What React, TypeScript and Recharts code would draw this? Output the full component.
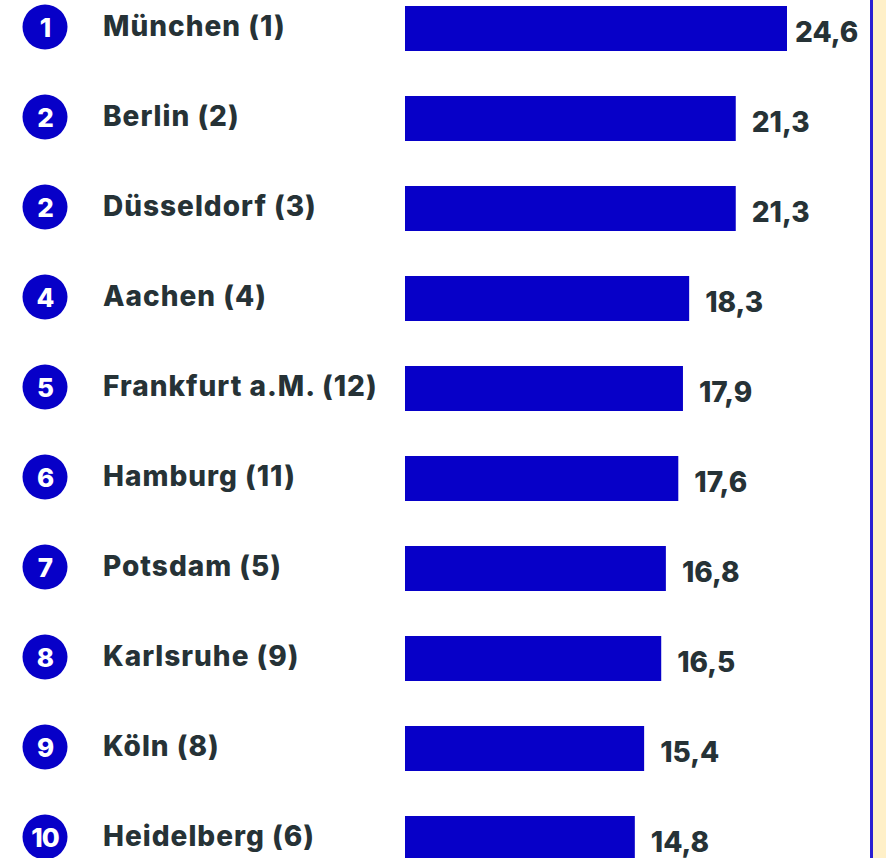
import React from 'react';
import { BarChart, Bar, XAxis, YAxis, LabelList } from 'recharts';

const cities = [
  'München (1)',
  'Berlin (2)',
  'Düsseldorf (3)',
  'Aachen (4)',
  'Frankfurt a.M. (12)',
  'Hamburg (11)',
  'Potsdam (5)',
  'Karlsruhe (9)',
  'Köln (8)',
  'Heidelberg (6)',
];
const ranks = [1, 2, 2, 4, 5, 6, 7, 8, 9, 10];
const values = [24.6, 21.3, 21.3, 18.3, 17.9, 17.6, 16.8, 16.5, 15.4, 14.8];

const data = cities.map((name, i) => ({ name, rank: ranks[i], value: values[i] }));

const BLUE = '#0700C8';
const TEXT = '#263236';
const FONT = 'Inter, "Open Sans", sans-serif';
const CHART_W = 886;

function CityTick(props: any) {
  const { y, index } = props;
  const row = data[index];
  return (
    <g>
      <circle cx={45} cy={y - 1} r={22.5} fill={BLUE} />
      <text
        x={45}
        y={y - 1}
        textAnchor="middle"
        dominantBaseline="central"
        fill="#fff"
        fontSize={26}
        fontWeight={800}
        fontFamily={FONT}
        letterSpacing={-1}
      >
        {row.rank}
      </text>
      <text
        x={103}
        y={y - 2}
        dominantBaseline="central"
        fill={TEXT}
        fontSize={28}
        fontWeight={800}
        fontFamily={FONT}
        letterSpacing={1}
      >
        {row.name}
      </text>
    </g>
  );
}

function ValueLabel(props: any) {
  const { x, y, width, height, value } = props;
  // labels sit 16px past the bar end, pulled back if they would leave the card
  const lx = Math.min(x + width + 16, CHART_W - 91);
  return (
    <text
      x={lx}
      y={y + height / 2 + 3}
      dominantBaseline="central"
      fill={TEXT}
      fontSize={28}
      fontWeight={800}
      fontFamily={FONT}
    >
      {Number(value).toFixed(1).replace('.', ',')}
    </text>
  );
}

export default function App() {
  return (
    <div
      style={{
        position: 'absolute',
        left: 0,
        top: 0,
        width: 886,
        height: 858,
        overflow: 'hidden',
        background: '#fff',
      }}
    >
      <div style={{ position: 'absolute', left: 0, top: -17.5 }}>
        <BarChart
          width={CHART_W}
          height={900}
          data={data}
          layout="vertical"
          margin={{ top: 0, right: 99, bottom: 0, left: 0 }}
        >
          <XAxis type="number" domain={[0, 24.6]} hide />
          <YAxis
            type="category"
            dataKey="name"
            width={405}
            axisLine={false}
            tickLine={false}
            tick={<CityTick />}
            interval={0}
          />
          <Bar dataKey="value" fill={BLUE} barSize={45} isAnimationActive={false}>
            <LabelList dataKey="value" content={<ValueLabel />} />
          </Bar>
        </BarChart>
      </div>
      <div
        style={{
          position: 'absolute',
          left: 870,
          top: 0,
          width: 3,
          height: 858,
          background: '#2A1FD2',
        }}
      />
      <div
        style={{
          position: 'absolute',
          left: 873,
          top: 0,
          width: 13,
          height: 858,
          background: '#FFF0C8',
        }}
      />
    </div>
  );
}
